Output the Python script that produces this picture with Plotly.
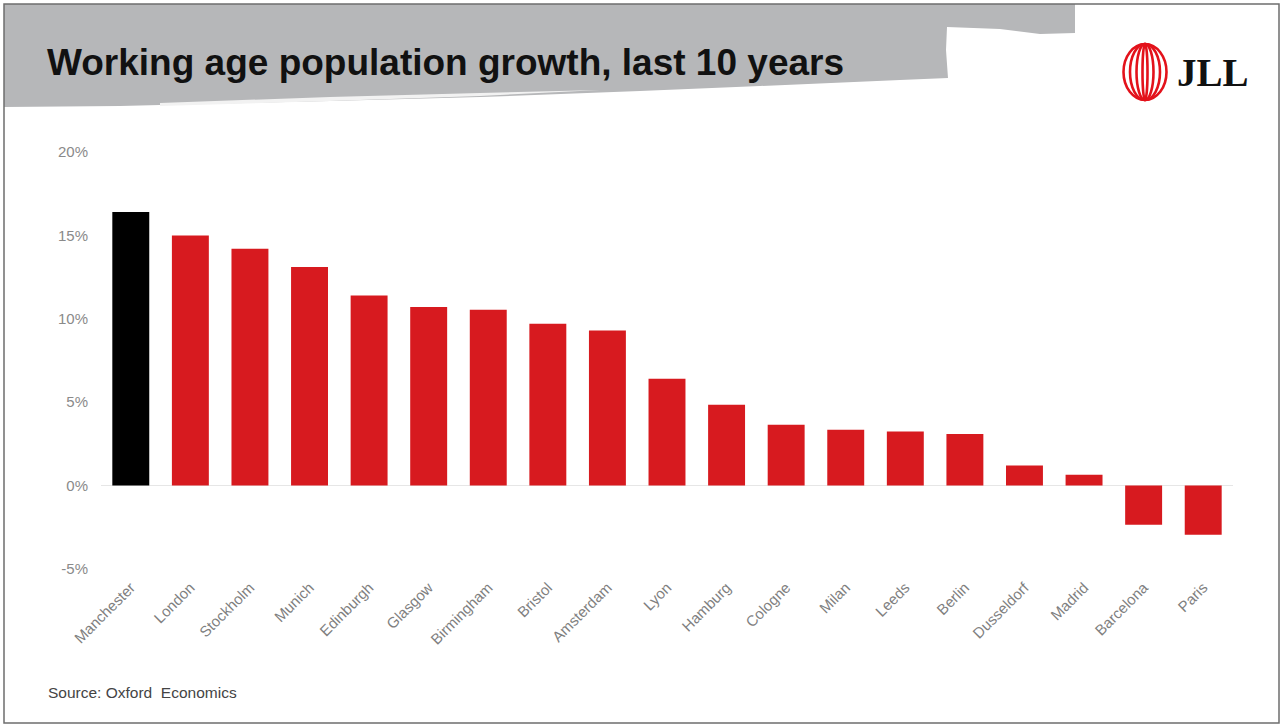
import plotly.graph_objects as go

# Working-age population growth over the last ten years, % change
cities = ["Manchester", "London", "Stockholm", "Munich", "Edinburgh", "Glasgow",
          "Birmingham", "Bristol", "Amsterdam", "Lyon", "Hamburg", "Cologne",
          "Milan", "Leeds", "Berlin", "Dusseldorf", "Madrid", "Barcelona", "Paris"]
growth = [16.4, 15.0, 14.2, 13.1, 11.4, 10.7, 10.55, 9.7, 9.3, 6.4, 4.85, 3.65,
          3.35, 3.25, 3.1, 1.2, 0.65, -2.35, -2.95]
highlight = "Manchester"
y_ticks = [-5, 0, 5, 10, 15, 20]
y_tick_text = ["-5%", "0%", "5%", "10%", "15%", "20%"]

W, H = 1282, 725
ML, MR, MT, MB = 101, 49, 152, 156
RED = "#d71a1f"
BLACK = "#000000"


def px(x):
    """Pixel x -> paper coordinate."""
    return (x - ML) / (W - ML - MR)


def py(y):
    """Pixel y (from top) -> paper coordinate."""
    return 1 - (y - MT) / (H - MT - MB)


def poly(points):
    return "M " + " L ".join(f"{px(x):.5f},{py(y):.5f}" for x, y in points) + " Z"


colors = [BLACK if c == highlight else RED for c in cities]

fig = go.Figure(go.Bar(x=cities, y=growth, marker=dict(color=colors, line=dict(width=0)),
                       width=0.62, hoverinfo="x+y"))

shapes = []
# Brushstroke header band
band = [(4, 4), (1075, 4), (1075, 33), (1040, 34), (1000, 29), (947, 27),
        (946, 50), (948, 78), (900, 80), (760, 86), (640, 91), (480, 97), (330, 101),
        (200, 104), (120, 106), (4, 107)]
shapes.append(dict(type="path", xref="paper", yref="paper", path=poly(band),
                   fillcolor="#b6b7b9", line=dict(width=0), layer="below"))
# Light streak along the lower edge of the band
streak = [(160, 103), (330, 97), (480, 93), (600, 90), (480, 96), (330, 101), (160, 106)]
shapes.append(dict(type="path", xref="paper", yref="paper", path=poly(streak),
                   fillcolor="#f2f2f2", line=dict(width=0), layer="below"))

# Logo: nested vertical ovals
cx, top, bot = 1145, 44, 100
for hw in [21.5, 15, 8.5, 2.5]:
    shapes.append(dict(type="circle", xref="paper", yref="paper",
                       x0=px(cx - hw), x1=px(cx + hw), y0=py(bot), y1=py(top),
                       line=dict(color="#e3121b", width=2.6)))

# Frame around the slide
shapes.append(dict(type="rect", xref="paper", yref="paper",
                   x0=px(4), x1=px(1279), y0=py(723), y1=py(4),
                   line=dict(color="#6e6e6e", width=1.5)))

annotations = [
    dict(text="<b>Working age population growth, last 10 years</b>", xref="paper", yref="paper",
         x=px(45), y=py(62), xanchor="left", yanchor="middle", showarrow=False,
         font=dict(family="Liberation Sans, Arial, sans-serif", size=37, color="#111111")),
    dict(text="<b>JLL</b>", xref="paper", yref="paper",
         x=px(1175), y=py(72), xanchor="left", yanchor="middle", showarrow=False,
         font=dict(family="Liberation Serif, DejaVu Serif, serif", size=39, color="#111111")),
    dict(text="Source: Oxford  Economics", xref="paper", yref="paper",
         x=px(46), y=py(692), xanchor="left", yanchor="middle", showarrow=False,
         font=dict(family="Liberation Sans, Arial, sans-serif", size=15.5, color="#444444")),
]

fig.update_layout(
    width=W, height=H,
    margin=dict(l=ML, r=MR, t=MT, b=MB),
    paper_bgcolor="white", plot_bgcolor="white",
    showlegend=False,
    bargap=0.38,
    shapes=shapes,
    annotations=annotations,
    font=dict(family="Liberation Sans, Arial, sans-serif"),
)
fig.update_xaxes(tickangle=-45, showgrid=False, showline=False, ticks="",
                 ticklabelstandoff=6,
                 tickfont=dict(size=15, color="#7f7f7f"))
fig.update_yaxes(range=[-5, 20], tickvals=y_ticks, ticktext=y_tick_text, showgrid=False,
                 zeroline=True, zerolinecolor="#e6e6e6", zerolinewidth=1,
                 showline=False, ticks="", ticklabelstandoff=12,
                 tickfont=dict(size=15, color="#8a8a8a"))

fig.write_html("out.html")
